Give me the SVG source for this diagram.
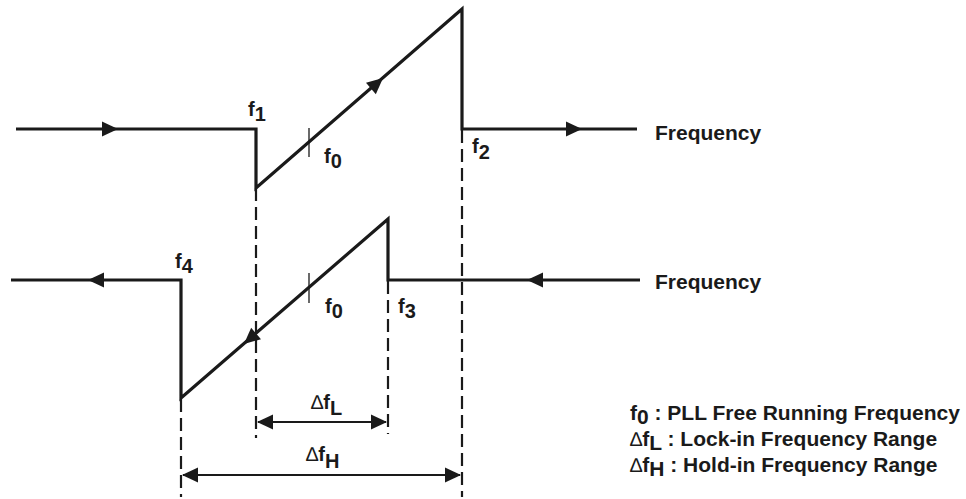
<svg xmlns="http://www.w3.org/2000/svg" width="966" height="499" viewBox="0 0 966 499">
<style>
.trace{fill:none;stroke:#1a1a1a;stroke-width:3.2;stroke-linejoin:miter}
.dash{fill:none;stroke:#1a1a1a;stroke-width:2.2;stroke-dasharray:13,6}
.tick{fill:none;stroke:#1a1a1a;stroke-width:1.3}
.dim{fill:none;stroke:#1a1a1a;stroke-width:2}
.ah{fill:#1a1a1a}
text{font-family:"Liberation Sans",Arial,sans-serif;font-weight:bold;fill:#1a1a1a}
.lbl{font-size:20px}
.leg{font-size:21px}
.dl{font-weight:normal;font-size:20px}
</style>
<defs>
<path id="ah" class="ah" d="M0,0 L-16,-7.5 L-16,7.5 Z"/>
</defs>
<rect width="966" height="499" fill="#fff"/>
<g id="guides">
<line class="dash" x1="256" y1="188" x2="256" y2="438"/>
<line class="dash" x1="462" y1="130" x2="462" y2="497"/>
<line class="dash" x1="181" y1="399" x2="181" y2="497"/>
<line class="dash" x1="388" y1="281" x2="388" y2="434"/>
</g>
<g id="upper-sweep">
<path class="trace" d="M16,129 H256 V188 L462,9 V129 H637"/>
<line class="tick" x1="309" y1="128" x2="309" y2="157"/>
<use href="#ah" transform="translate(118,129)"/>
<use href="#ah" transform="translate(383,78) rotate(-41)"/>
<use href="#ah" transform="translate(582,129)"/>
</g>
<g id="lower-sweep">
<path class="trace" d="M640,280 H388 V219 L181,398 V280 H11"/>
<line class="tick" x1="309" y1="273" x2="309" y2="303"/>
<use href="#ah" transform="translate(527,280) rotate(180)"/>
<use href="#ah" transform="translate(244,344) rotate(139)"/>
<use href="#ah" transform="translate(88,280) rotate(180)"/>
</g>
<g id="connectors">
<line class="dim" x1="258" y1="422" x2="386" y2="422"/>
<use href="#ah" transform="translate(387,422)"/>
<use href="#ah" transform="translate(257,422) rotate(180)"/>
<line class="dim" x1="183" y1="475" x2="460" y2="475"/>
<use href="#ah" transform="translate(461,475)"/>
<use href="#ah" transform="translate(182,475) rotate(180)"/>
</g>
<g id="labels">
<text class="lbl" x="248" y="116">f<tspan dy="5">1</tspan></text>
<text class="lbl" x="324" y="163">f<tspan dy="5">0</tspan></text>
<text class="lbl" x="472" y="153">f<tspan dy="6">2</tspan></text>
<text class="lbl" x="175" y="268">f<tspan dy="5">4</tspan></text>
<text class="lbl" x="325" y="313">f<tspan dy="5">0</tspan></text>
<text class="lbl" x="398" y="313">f<tspan dy="5">3</tspan></text>
<text class="lbl" x="311" y="409"><tspan class="dl">∆</tspan>f<tspan dy="6">L</tspan></text>
<text class="lbl" x="306" y="461"><tspan class="dl">∆</tspan>f<tspan dy="7">H</tspan></text>
<text class="leg" x="655" y="140">Frequency</text>
<text class="leg" x="655" y="289">Frequency</text>
</g>
<g id="legend">
<text class="leg" x="630" y="420">f<tspan dy="4">0</tspan><tspan dy="-4"> : PLL Free Running Frequency</tspan></text>
<text class="leg" x="630" y="446"><tspan class="dl">∆</tspan>f<tspan dy="4">L</tspan><tspan dy="-4"> : Lock-in Frequency Range</tspan></text>
<text class="leg" x="630" y="472"><tspan class="dl">∆</tspan>f<tspan dy="4">H</tspan><tspan dy="-4"> : Hold-in Frequency Range</tspan></text>
</g>
</svg>
